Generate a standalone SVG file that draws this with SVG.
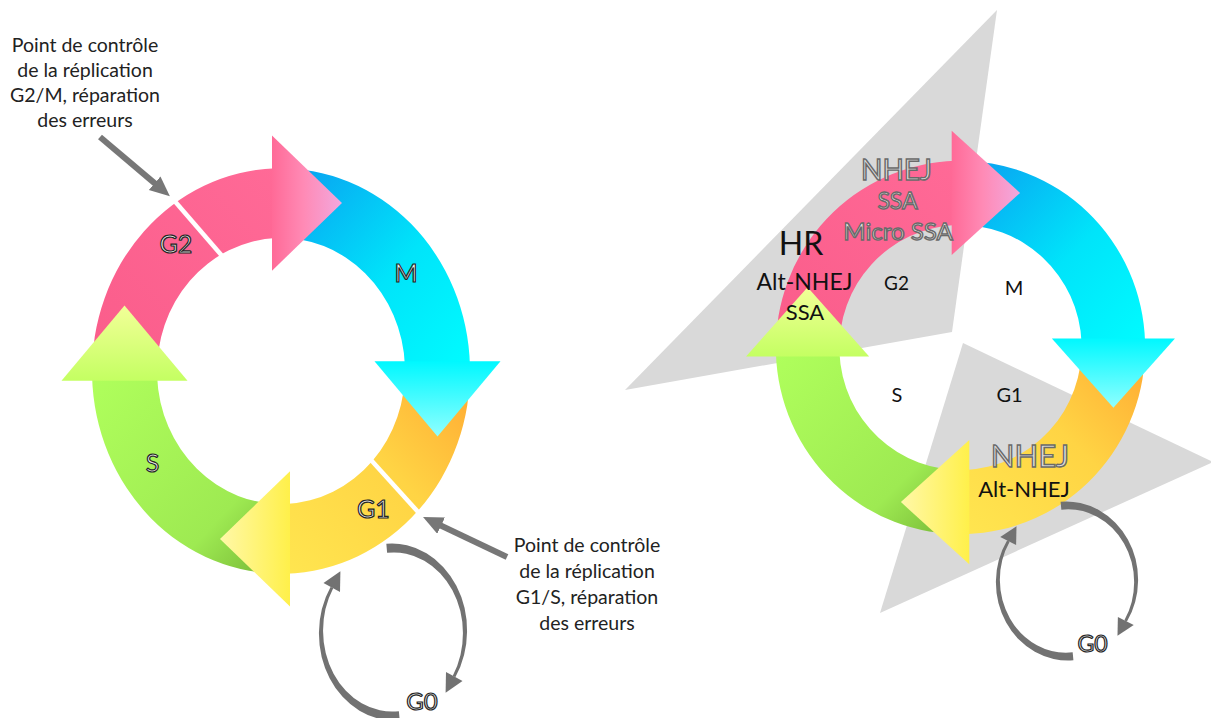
<svg xmlns="http://www.w3.org/2000/svg" xmlns:xlink="http://www.w3.org/1999/xlink" width="1211" height="718" viewBox="0 0 1211 718">
<style>
.t{font-family:Lato,'Liberation Sans',sans-serif}
.note{font-size:19.5px;fill:#222;text-anchor:middle}
.lbl{font-size:25px;fill:#eeeeee;stroke:#262626;stroke-width:1.2px;text-anchor:middle}
.blk{fill:#111;text-anchor:middle}
.out{fill:#e0e0e0;stroke:#6a6a6a;stroke-width:1.4px;text-anchor:middle}
.tri{fill:#d9d9d9}
.loopc{fill:#727272}
.div{stroke:#fff;stroke-width:4.5;stroke-linecap:butt}
.ptr{stroke:#777;stroke-width:6;fill:none}
</style>
<defs>
<linearGradient id="gPinkBody" gradientUnits="userSpaceOnUse" x1="-189" y1="0" x2="0" y2="-189"><stop offset="0" stop-color="#fa5c8a"/><stop offset="1" stop-color="#ff6a97"/></linearGradient>
<linearGradient id="gPinkHead" gradientUnits="userSpaceOnUse" x1="-9" y1="-156" x2="61" y2="-156"><stop offset="0" stop-color="#ff6a97"/><stop offset="0.45" stop-color="#ff8ab5"/><stop offset="1" stop-color="#f2a8de"/></linearGradient>
<linearGradient id="gCyanBody" gradientUnits="userSpaceOnUse" x1="-189" y1="0" x2="0" y2="-189"><stop offset="0" stop-color="#0a9cf0"/><stop offset="0.55" stop-color="#00e4fa"/><stop offset="1" stop-color="#00fcff"/></linearGradient>
<linearGradient id="gCyanHead" gradientUnits="userSpaceOnUse" x1="-9" y1="-156" x2="61" y2="-156"><stop offset="0" stop-color="#00f8ff"/><stop offset="1" stop-color="#90ffff"/></linearGradient>
<linearGradient id="gYellowBody" gradientUnits="userSpaceOnUse" x1="-189" y1="0" x2="0" y2="-189"><stop offset="0" stop-color="#ffa832"/><stop offset="0.45" stop-color="#ffd444"/><stop offset="1" stop-color="#ffe650"/></linearGradient>
<linearGradient id="gYellowHead" gradientUnits="userSpaceOnUse" x1="-9" y1="-156" x2="61" y2="-156"><stop offset="0" stop-color="#fff04a"/><stop offset="1" stop-color="#fff8a8"/></linearGradient>
<linearGradient id="gGreenBody" gradientUnits="userSpaceOnUse" x1="-189" y1="0" x2="0" y2="-189"><stop offset="0" stop-color="#74b434"/><stop offset="0.3" stop-color="#9eea52"/><stop offset="1" stop-color="#b0ff5c"/></linearGradient>
<linearGradient id="gGreenHead" gradientUnits="userSpaceOnUse" x1="-9" y1="-156" x2="61" y2="-156"><stop offset="0" stop-color="#c4ff62"/><stop offset="1" stop-color="#f2ff98"/></linearGradient>
<marker id="ah" markerUnits="userSpaceOnUse" markerWidth="22" markerHeight="20" viewBox="0 0 22 20" refX="1" refY="9" orient="auto"><path d="M0,0 L20,9 L0,18 Z" fill="#777"/></marker>
<path id="body" d="M -188.93,5 A189,189 0 0 1 -5,-188.93 L -5,-123.9 A124,124 0 0 0 -123.9,5 Z"/>
<polygon id="head" points="-9,-219.5 -9,-93.5 61,-156.5"/>
<g id="cycle">
<use xlink:href="#body" fill="url(#gPinkBody)"/>
<use xlink:href="#body" transform="rotate(90)" fill="url(#gCyanBody)"/>
<use xlink:href="#body" transform="rotate(180)" fill="url(#gYellowBody)"/>
<use xlink:href="#body" transform="rotate(270)" fill="url(#gGreenBody)"/>
<use xlink:href="#head" fill="url(#gPinkHead)"/>
<use xlink:href="#head" transform="rotate(90)" fill="url(#gCyanHead)"/>
<use xlink:href="#head" transform="rotate(180)" fill="url(#gYellowHead)"/>
<use xlink:href="#head" transform="rotate(270)" fill="url(#gGreenHead)"/>
</g>
<g id="loop" class="loopc">
<path d="M -6.67,-88.16 A75,87 0 0 1 62.33,45.31 L 59.78,43.72 A69,81 0 0 0 -5.89,-79.2 Z"/>
<polygon points="69.5,49 53,40 52.6,60.8"/>
<path d="M 6.67,88.16 A75,87 0 0 1 -62.33,-45.31 L -59.78,-43.72 A69,81 0 0 0 5.89,79.2 Z"/>
<polygon points="-69.5,-49 -53,-40 -52.6,-60.8"/>
</g>
</defs>

<g id="right-zones">
<polygon class="tri" points="997,10 625,390 952,332"/>
<polygon class="tri" points="963,343 1213,462 880,613"/>
</g>

<g id="left-cycle">
<use xlink:href="#cycle" transform="translate(281,371) scale(1,1.073)"/>
<line class="div" x1="172" y1="198" x2="223" y2="257"/>
<line class="div" x1="371" y1="460" x2="419" y2="513"/>
</g>

<g id="right-cycle">
<use xlink:href="#cycle" transform="translate(960.5,347.5) scale(0.977,0.988)"/>
</g>

<g id="g0-loops">
<use xlink:href="#loop" transform="translate(393,632)"/>
<use xlink:href="#loop" transform="translate(1067,581) scale(0.96,0.9)"/>
</g>

<g id="connectors">
<line class="ptr" x1="100" y1="137" x2="155.4" y2="183.9" marker-end="url(#ah)"/>
<line class="ptr" x1="507" y1="557" x2="440.2" y2="525.2" marker-end="url(#ah)"/>
</g>

<g id="note-g2m" class="t note">
<text x="85" y="52">Point de contrôle</text>
<text x="85" y="77">de la réplication</text>
<text x="85" y="102">G2/M, réparation</text>
<text x="85" y="127">des erreurs</text>
</g>
<g id="note-g1s" class="t note">
<text x="587" y="552">Point de contrôle</text>
<text x="587" y="578">de la réplication</text>
<text x="587" y="604">G1/S, réparation</text>
<text x="587" y="630">des erreurs</text>
</g>

<g id="left-labels" class="t lbl">
<text x="176" y="253">G2</text>
<text x="406" y="282">M</text>
<text x="152.5" y="472">S</text>
<text x="373.5" y="518">G1</text>
<text x="422" y="710" style="font-size:24px">G0</text>
</g>

<g id="right-labels" class="t">
<text class="blk" x="801" y="255" style="font-size:32px">HR</text>
<text class="blk" x="804.5" y="290" style="font-size:23px">Alt-NHEJ</text>
<text class="blk" x="805" y="320" style="font-size:22px">SSA</text>
<text class="blk" x="896.5" y="290" style="font-size:19px">G2</text>
<text class="blk" x="1014" y="295" style="font-size:20px">M</text>
<text class="blk" x="897" y="402" style="font-size:20px">S</text>
<text class="blk" x="1009.5" y="402" style="font-size:20px">G1</text>
<text class="out" x="896.5" y="180" style="font-size:28px">NHEJ</text>
<text class="out" x="897.5" y="209" style="font-size:23px">SSA</text>
<text class="out" x="898" y="240" style="font-size:24px">Micro SSA</text>
<text class="out" x="1030" y="467" style="font-size:31px">NHEJ</text>
<text class="blk" x="1024" y="497" style="font-size:22px">Alt-NHEJ</text>
<text class="lbl" x="1092.5" y="652" style="font-size:23px">G0</text>
</g>
</svg>
